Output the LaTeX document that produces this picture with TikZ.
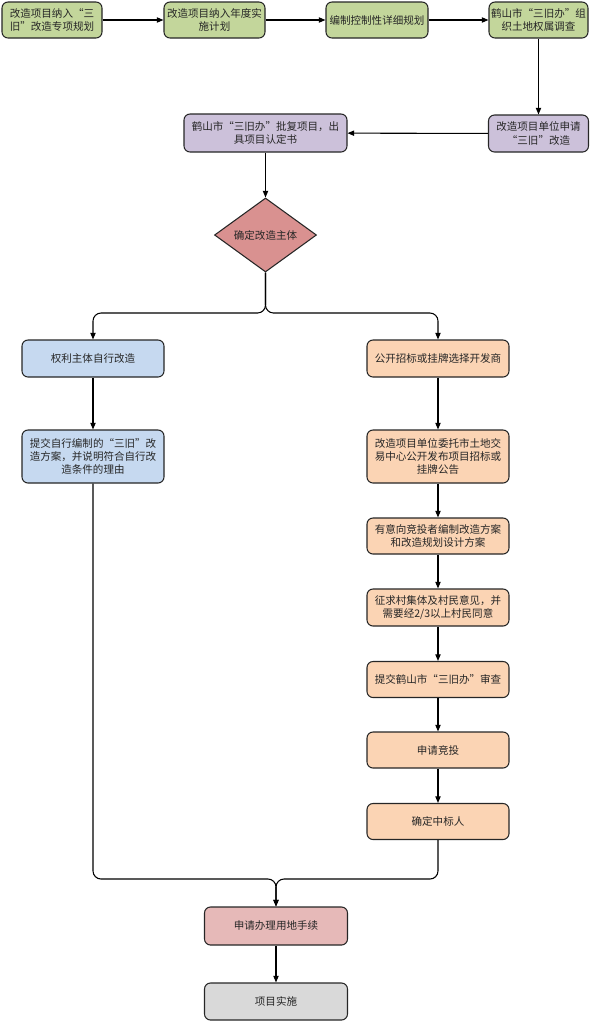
\documentclass[tikz,border=0pt]{standalone}
\usepackage{fontspec}
\setmainfont{Noto Sans CJK SC}
\newfontfamily\fwq[RawFeature=+fwid]{Noto Sans CJK SC}
\newcommand{\LQ}{{\fwq “}}
\newcommand{\RQ}{{\fwq ”}}
\usetikzlibrary{shapes.geometric,arrows.meta}
\definecolor{cgreen}{HTML}{C3D69B}
\definecolor{cpurple}{HTML}{CCC1DA}
\definecolor{cred}{HTML}{D99190}
\definecolor{cblue}{HTML}{C6D9F0}
\definecolor{corange}{HTML}{FBD4B4}
\definecolor{cpink}{HTML}{E6B9B8}
\definecolor{cgray}{HTML}{D9D9D9}
\begin{document}
\begin{tikzpicture}[x=0.75pt,y=-0.75pt,
  box/.style={draw=black!85, rounded corners=4.5pt, line width=0.8pt, align=center,
    inner sep=1pt, font=\fontsize{7.9}{9.8}\selectfont, text=black!85},
  sz/.style 2 args={minimum width=#1*0.75pt, minimum height=#2*0.75pt},
  gbox/.style={box, fill=cgreen},
  pbox/.style={box, fill=cpurple},
  bbox/.style={box, fill=cblue},
  obox/.style={box, fill=corange, sz={142}{36}},
  dia/.style={diamond, draw=black!85, fill=cred, line width=0.8pt, inner sep=0pt, aspect=1.38,
    minimum width=102*0.75pt, minimum height=74*0.75pt, font=\fontsize{7.9}{9.8}\selectfont, text=black!85},
  arr/.style={-{Triangle[length=5pt,width=4pt]}, line width=0.8pt, draw=black}
]
\useasboundingbox (0,0) rectangle (592,1022);
% top row
\node[gbox, sz={100}{36}] (a1) at (52,20) {改造项目纳入\LQ 三\\旧\RQ 改造专项规划};
\node[gbox, sz={101}{36}] (a2) at (214.5,20) {改造项目纳入年度实\\施计划};
\node[gbox, sz={102}{36}] (a3) at (377,20) {编制控制性详细规划};
\node[gbox, sz={99}{36}] (a4) at (538.5,20) {鹤山市\LQ 三旧办\RQ 组\\织土地权属调查};
% purple
\node[pbox, sz={100}{37}] (b1) at (538.5,133.5) {改造项目单位申请\\\LQ 三旧\RQ 改造};
\node[pbox, sz={163}{38}] (b2) at (265.5,133) {鹤山市\LQ 三旧办\RQ 批复项目，出\\具项目认定书};
% diamond
\node[dia] (d) at (265.5,235) {确定改造主体};
% left branch
\node[bbox, sz={142}{37}] (c1) at (93,358.5) {权利主体自行改造};
\node[bbox, sz={142}{53}] (c2) at (93,456.5) {提交自行编制的\LQ 三旧\RQ 改\\造方案，并说明符合自行改\\造条件的理由};
% right branch
\node[obox, sz={142}{37}] (o1) at (438,358.5) {公开招标或挂牌选择开发商};
\node[obox, sz={142}{53}] (o2) at (438,456.5) {改造项目单位委托市土地交\\易中心公开发布项目招标或\\挂牌公告};
\node[obox] (o3) at (438,536) {有意向竞投者编制改造方案\\和改造规划设计方案};
\node[obox, sz={142}{37}] (o4) at (438,607.5) {征求村集体及村民意见，并\\需要经2/3以上村民同意};
\node[obox] (o5) at (438,679.5) {提交鹤山市\LQ 三旧办\RQ 审查};
\node[obox] (o6) at (438,750) {申请竞投};
\node[obox] (o7) at (438,821.5) {确定中标人};
% bottom
\node[box, fill=cpink, sz={143}{38}] (e1) at (276,926) {申请办理用地手续};
\node[box, fill=cgray, sz={143}{37}] (e2) at (276,1001.5) {项目实施};
% connectors
\draw[arr] (a1) -- (a2);
\draw[arr] (a2) -- (a3);
\draw[arr] (a3) -- (a4);
\draw[arr] (a4) -- (b1);
\draw[arr] (b1) -- (b2);
\draw[arr] (b2) -- (d);
\draw[arr, rounded corners=6pt] (d.south) -- (d.south |- 0,313) -- (c1.north |- 0,313) -- (c1.north);
\draw[arr, rounded corners=6pt] (d.south) -- (d.south |- 0,313) -- (o1.north |- 0,313) -- (o1.north);
\draw[arr] (c1) -- (c2);
\draw[arr] (o1) -- (o2);
\draw[arr] (o2) -- (o3);
\draw[arr] (o3) -- (o4);
\draw[arr] (o4) -- (o5);
\draw[arr] (o5) -- (o6);
\draw[arr] (o6) -- (o7);
\draw[arr, rounded corners=6pt] (c2.south) -- (c2.south |- 0,879) -- (e1.north |- 0,879) -- (e1.north);
\draw[arr, rounded corners=6pt] (o7.south) -- (o7.south |- 0,879) -- (e1.north |- 0,879) -- (e1.north);
\draw[arr] (e1) -- (e2);
\end{tikzpicture}
\end{document}
